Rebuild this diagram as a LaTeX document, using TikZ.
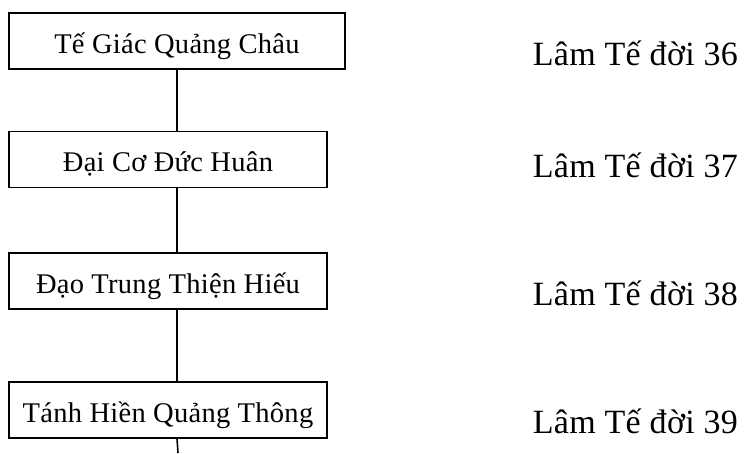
\documentclass[tikz,border=0pt]{standalone}
\usepackage{fontspec}
\setmainfont{Liberation Serif}
\newfontfamily\boxfont[LetterSpace=1]{Liberation Serif}
\newfontfamily\genfont[LetterSpace=1]{Liberation Serif}
\usepackage{tikz}

\begin{document}
\begin{tikzpicture}[x=1pt,y=-1pt,
    name box/.style={draw,line width=1.2pt,rectangle,inner sep=0pt,
      text height=40pt,text depth=16pt,font=\boxfont\fontsize{28.5}{32}\selectfont},
    gen label/.style={anchor=base west,inner sep=0pt,font=\genfont\fontsize{34}{38}\selectfont},
    every path/.style={line width=1.6pt}]
  \useasboundingbox (0,0) rectangle (744,453);

  \node[name box,minimum width=336pt] (A) at (177,41) {Tế Giác Quảng Châu};
  \node[name box,minimum width=318pt] (B) at (168,159.5) {Đại Cơ Đức Huân};
  \node[name box,minimum width=318pt] (C) at (168,281) {Đạo Trung Thiện Hiếu};
  \node[name box,minimum width=318pt] (D) at (168,410) {Tánh Hiền Quảng Thông};

  \node[gen label] (A') at (532,65) {Lâm Tế đời 36};
  \node[gen label] (B') at (532,177) {Lâm Tế đời 37};
  \node[gen label] (C') at (532,305) {Lâm Tế đời 38};
  \node[gen label] (D') at (532,433) {Lâm Tế đời 39};

  \coordinate (E) at (178,453);

  \draw (A.south) -- (A.south |- B.north);
  \draw (A.south |- B.south) -- (A.south |- C.north);
  \draw (A.south |- C.south) -- (A.south |- D.north);
  \draw (A.south |- D.south) -- (E);
\end{tikzpicture}
\end{document}
